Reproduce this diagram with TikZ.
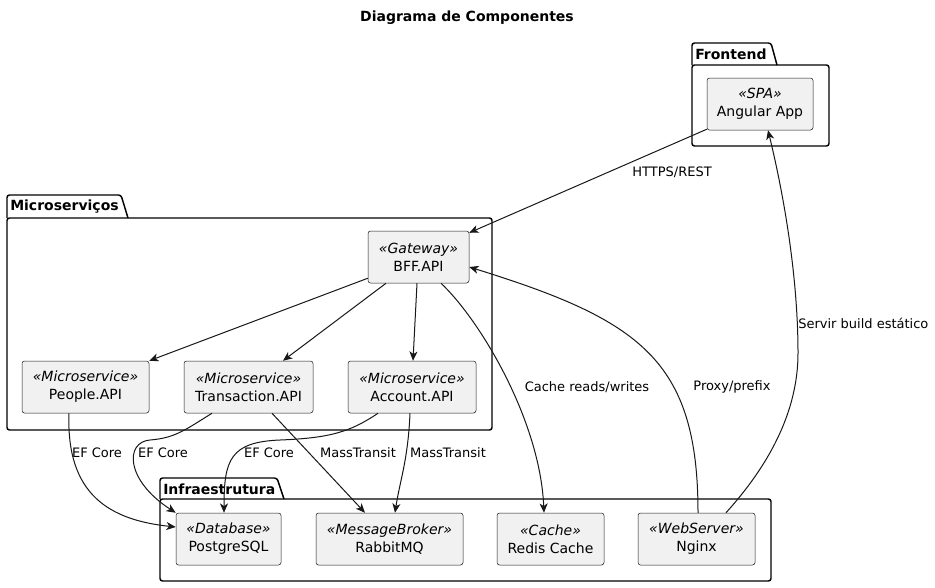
\documentclass[tikz,border=0pt]{standalone}
\usepackage{fontspec}
\setmainfont{DejaVu Sans}
\usetikzlibrary{arrows.meta,calc}
\definecolor{compfill}{HTML}{F1F1F1}
\definecolor{lc}{HTML}{181818}
\begin{document}
\begin{tikzpicture}[x=0.75pt,y=-0.75pt,
 comp/.style={draw=lc, line width=0.375pt, fill=compfill, rounded corners=1.9pt,
   minimum width={#1*0.75pt}, minimum height=39pt, inner sep=0pt, align=center,
   font=\fontsize{10.5}{13.5}\selectfont},
 pkg/.style={draw=black, line width=1.1pt, rounded corners=1.9pt},
 pkgname/.style={font=\bfseries\fontsize{10.5}{12}\selectfont, anchor=west, inner sep=0pt},
 arr/.style={draw=lc, line width=0.75pt, -{Stealth[length=7pt,width=6pt,inset=2pt]}},
 lbl/.style={font=\fontsize{9.75}{12}\selectfont, inner sep=0pt, text=black},
]
\fill[white] (0,0) rectangle (935,587);
\useasboundingbox (0,0) rectangle (935,587);

% title
\node[font=\bfseries\fontsize{10.5}{12}\selectfont] (title) at (467,18) {Diagrama de Componentes};

% packages
\draw[pkg] (692,65) rectangle (829,146);
\draw[pkg] (692,65) -- (692,43) -- (771,43) -- (777,65);
\node[pkgname] (pF) at (695,54) {Frontend};

\draw[pkg] (7,218) rectangle (492,430);
\draw[pkg] (7,218) -- (7,195) -- (121,195) -- (128,218);
\node[pkgname] (pM) at (10,207) {Microserviços};

\draw[pkg] (160,499) rectangle (771,581);
\draw[pkg] (160,499) -- (160,478) -- (277,478) -- (284,499);
\node[pkgname] (pI) at (163,489) {Infraestrutura};

% components
\node[comp=106] (ang) at (760,104) {{\itshape «SPA»}\\Angular App};
\node[comp=101] (bff) at (418.5,257) {{\itshape «Gateway»}\\BFF.API};
\node[comp=127] (people) at (85.5,387) {{\itshape «Microservice»}\\People.API};
\node[comp=129] (trans) at (248.5,387) {{\itshape «Microservice»}\\Transaction.API};
\node[comp=128] (acct) at (412,387) {{\itshape «Microservice»}\\Account.API};
\node[comp=105] (pg) at (228.5,539) {{\itshape «Database»}\\PostgreSQL};
\node[comp=147] (rmq) at (389.5,539) {{\itshape «MessageBroker»}\\RabbitMQ};
\node[comp=107] (redis) at (550.5,539) {{\itshape «Cache»}\\Redis Cache};
\node[comp=117] (nginx) at (696.5,539) {{\itshape «WebServer»}\\Nginx};

% connectors
\draw[arr] ($(ang.south west)+(0,-1)$) -- ($(bff.north east)+(0,2)$);
\draw[arr] ($(bff.south west)+(0,-5)$) -- (people.north east);
\draw[arr] ($(bff.south)+(-32.5,0)$) -- ($(trans.north)+(34.5,0)$);
\draw[arr] ($(bff.south)+(-1.5,0)$) -- ($(acct.north)+(1,0)$);
\draw[arr] ($(bff.south)+(22.5,0)$) .. controls (480,320) and (540,420) .. ($(redis.north)+(-6.5,0)$);
\draw[arr] ($(nginx.north)+(1.5,0)$) .. controls (698,360) and (640,320) .. ($(bff.east)+(0,10)$);
\draw[arr] ($(nginx.north)+(29.5,0)$) .. controls (760,475) and (798,420) .. (798,353)
   .. controls (798,280) and (785,200) .. ($(ang.south)+(8,0)$);
\draw[arr] ($(people.south)+(-16.5,0)$) .. controls (66,495) and (110,520) .. ($(pg.west)+(0,-12)$);
\draw[arr] ($(trans.south)+(-36.5,0)$) .. controls (185,430) and (175,438) .. (150,440)
   .. controls (125,442) and (125,480) .. (pg.north west);
\draw[arr] ($(acct.south)+(-34,0)$) .. controls (350,432) and (330,438) .. (280,440)
   .. controls (230,442) and (224,460) .. ($(pg.north)+(-4.5,0)$);
\draw[arr] ($(trans.south)+(23.5,0)$) -- ($(rmq.north)+(-24.5,0)$);
\draw[arr] ($(acct.south)+(-2,0)$) .. controls (408,460) and (400,480) .. ($(rmq.north)+(5.5,0)$);

% labels
\node[lbl] (l1) at (672,172) {HTTPS/REST};
\node[lbl] (l2) at (587,387) {Cache reads/writes};
\node[lbl] (l3) at (732,387) {Proxy/prefix};
\node[lbl,anchor=west] (l4) at (798,323) {Servir build estático};
\node[lbl] (l5) at (97,453) {EF Core};
\node[lbl] (l6) at (163,453) {EF Core};
\node[lbl] (l7) at (269,453) {EF Core};
\node[lbl] (l8) at (358,453) {MassTransit};
\node[lbl] (l9) at (448,453) {MassTransit};
\end{tikzpicture}
\end{document}
